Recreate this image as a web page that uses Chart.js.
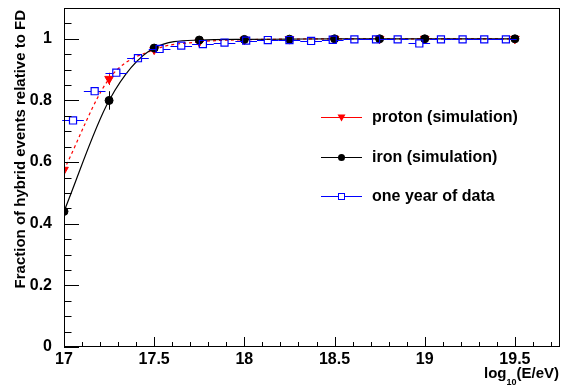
<!DOCTYPE html>
<html>
<head>
<script src="https://cdn.jsdelivr.net/npm/chart.js"></script>
<style>
    html, body { margin: 0; padding: 0; background: #fff; }
</style>
</head>
<body>
<canvas id="fracChart" width="561" height="387"></canvas>
<script>
// simulation points (fit evaluated at quarter decades)
var simEnergy  = [17, 17.25, 17.5, 17.75, 18, 18.25, 18.5, 18.75, 19, 19.5];
var protonFrac = [0.575, 0.87, 0.965, 0.99, 0.997, 0.999, 1.0, 1.0, 1.0, 1.0];
var protonErr  = [0.03, 0.02, 0.01, 0.005, 0.004, 0.003, 0.003, 0.003, 0.003, 0.003];
var ironFrac   = [0.44, 0.80, 0.97, 0.996, 0.998, 0.999, 1.0, 1.0, 1.0, 1.0];
var ironErr    = [0.045, 0.03, 0.01, 0.005, 0.004, 0.003, 0.003, 0.003, 0.003, 0.003];

// one year of data, 0.12 wide bins
var dataEnergy = [17.05, 17.17, 17.29, 17.41, 17.53, 17.65, 17.77, 17.89, 18.01, 18.13, 18.25,
                  18.37, 18.49, 18.61, 18.73, 18.85, 18.97, 19.09, 19.21, 19.33, 19.45];
var dataFrac   = [0.735, 0.83, 0.89, 0.937, 0.967, 0.978, 0.983, 0.988, 0.994, 0.996, 0.996,
                  0.993, 0.997, 0.998, 0.998, 0.998, 0.985, 0.998, 0.998, 0.998, 0.998];
var dataXErr   = [0.06, 0.06, 0.06, 0.06, 0.06, 0.06, 0.06, 0.06, 0.06, 0.06, 0.06,
                  0.06, 0.06, 0.06, 0.06, 0.06, 0.06, 0.06, 0.06, 0.06, 0.06];

var xTicks = ['17', '17.5', '18', '18.5', '19', '19.5'];
var yTicks = ['0', '0.2', '0.4', '0.6', '0.8', '1'];

var FONT = 'Liberation Sans, Arial, sans-serif';
var SQ_HALF = 3.6; // half side of data marker, px

function toXY(xs, ys) {
    return xs.map(function(x, i) { return { x: x, y: ys[i] }; });
}

var rootStyle = {
    id: 'rootStyle',
    beforeDatasetsDraw: function(chart) {
        var ctx = chart.ctx, xs = chart.scales.x, ys = chart.scales.y;
        ctx.save();
        // vertical bars of simulations
        [[protonFrac, protonErr, '#ff0000'], [ironFrac, ironErr, '#000000']].forEach(function(s) {
            ctx.strokeStyle = s[2];
            ctx.lineWidth = 1;
            simEnergy.forEach(function(e, i) {
                var px = Math.round(xs.getPixelForValue(e)) + 0.5;
                ctx.beginPath();
                ctx.moveTo(px, ys.getPixelForValue(s[0][i] - s[1][i]));
                ctx.lineTo(px, ys.getPixelForValue(s[0][i] + s[1][i]));
                ctx.stroke();
            });
        });
        ctx.restore();
    },
    afterDatasetsDraw: function(chart) {
        var ctx = chart.ctx, xs = chart.scales.x, ys = chart.scales.y;
        ctx.save();
        // horizontal bars of the data points, stopping at the marker
        ctx.strokeStyle = '#0000ff';
        ctx.lineWidth = 1.2;
        dataEnergy.forEach(function(e, i) {
            var py = Math.round(ys.getPixelForValue(dataFrac[i])) + 0.5;
            var pc = xs.getPixelForValue(e);
            ctx.beginPath();
            ctx.moveTo(xs.getPixelForValue(e - dataXErr[i]), py);
            ctx.lineTo(pc - SQ_HALF, py);
            ctx.moveTo(pc + SQ_HALF, py);
            ctx.lineTo(xs.getPixelForValue(e + dataXErr[i]), py);
            ctx.stroke();
        });
        ctx.restore();
    },
    afterDraw: function(chart) {
        var ctx = chart.ctx, a = chart.chartArea;
        var xs = chart.scales.x, ys = chart.scales.y;
        ctx.save();
        ctx.strokeStyle = '#000';
        ctx.lineWidth = 1;
        ctx.strokeRect(a.left + 0.5, a.top + 0.5, a.right - a.left - 1, a.bottom - a.top - 1);

        // inward ticks
        ctx.beginPath();
        for (var k = 0; k <= 22; k++) {
            var yv = k * 0.05;
            var py = Math.round(ys.getPixelForValue(yv)) + 0.5;
            var len = (k % 4 === 0) ? 15 : 7.5;
            ctx.moveTo(a.left, py);
            ctx.lineTo(a.left + len, py);
        }
        for (var j = 0; j <= 27; j++) {
            var xv = 17 + j * 0.1;
            var px = Math.round(xs.getPixelForValue(xv)) + 0.5;
            var l2 = (j % 5 === 0) ? 10 : 5;
            ctx.moveTo(px, a.bottom);
            ctx.lineTo(px, a.bottom - l2);
        }
        ctx.stroke();

        // y title
        ctx.fillStyle = '#000';
        ctx.font = 'bold 15px ' + FONT;
        ctx.save();
        ctx.translate(25, 10);
        ctx.rotate(-Math.PI / 2);
        ctx.textAlign = 'right';
        ctx.textBaseline = 'alphabetic';
        ctx.fillText('Fraction of hybrid events relative to FD', 0, 0);
        ctx.restore();

        // x title with subscript
        ctx.textBaseline = 'alphabetic';
        ctx.textAlign = 'left';
        var big = 'bold 15px ' + FONT, small = 'bold 9px ' + FONT;
        ctx.font = big;
        var w1 = ctx.measureText('log').width;
        var w3 = ctx.measureText('(E/eV)').width;
        ctx.font = small;
        var w2 = ctx.measureText('10').width;
        var x0 = 559 - w1 - w2 - w3;
        ctx.font = big;
        ctx.fillText('log', x0, 378);
        ctx.font = small;
        ctx.fillText('10', x0 + w1, 385);
        ctx.font = big;
        ctx.fillText('(E/eV)', x0 + w1 + w2, 378);

        // legend
        var entries = [
            { label: 'proton (simulation)', color: '#ff0000', marker: 'tri', y: 117 },
            { label: 'iron (simulation)', color: '#000000', marker: 'circ', y: 157 },
            { label: 'one year of data', color: '#0000ff', marker: 'sq', y: 196 }
        ];
        entries.forEach(function(en) {
            ctx.strokeStyle = en.color;
            ctx.fillStyle = en.color;
            ctx.lineWidth = 1;
            ctx.beginPath();
            ctx.moveTo(321, en.y + 0.5);
            ctx.lineTo(362, en.y + 0.5);
            ctx.stroke();
            var mx = 341.5, my = en.y + 0.5;
            ctx.beginPath();
            if (en.marker === 'tri') {
                ctx.moveTo(mx - 4, my - 3);
                ctx.lineTo(mx + 4, my - 3);
                ctx.lineTo(mx, my + 4);
                ctx.closePath();
                ctx.fill();
            } else if (en.marker === 'circ') {
                ctx.arc(mx, my, 3.5, 0, Math.PI * 2);
                ctx.fill();
            } else {
                ctx.fillStyle = '#fff';
                ctx.fillRect(mx - 3, my - 3, 6, 6);
                ctx.strokeRect(mx - 3, my - 3, 6, 6);
            }
            ctx.fillStyle = '#000';
            ctx.font = 'bold 16px ' + FONT;
            ctx.textBaseline = 'middle';
            ctx.fillText(en.label, 372, en.y + 1);
        });
        ctx.restore();
    }
};

var ctx = document.getElementById('fracChart').getContext('2d');
var fracChart = new Chart(ctx, {
    type: 'scatter',
    data: {
        datasets: [
            {
                label: 'one year of data',
                data: toXY(dataEnergy, dataFrac),
                showLine: false,
                pointStyle: 'rect',
                pointRadius: 5,
                borderColor: '#0000ff',
                backgroundColor: 'rgba(255,255,255,0)',
                borderWidth: 1.2,
                order: 0
            },
            {
                label: 'proton (simulation)',
                data: toXY(simEnergy, protonFrac),
                showLine: true,
                cubicInterpolationMode: 'monotone',
                borderColor: '#ff0000',
                borderWidth: 1.2,
                borderDash: [3, 3],
                pointStyle: 'triangle',
                rotation: 180,
                pointRadius: 5,
                pointBorderWidth: 1,
                pointBackgroundColor: '#ff0000',
                pointBorderColor: '#ff0000',
                order: 2
            },
            {
                label: 'iron (simulation)',
                data: toXY(simEnergy, ironFrac),
                showLine: true,
                cubicInterpolationMode: 'monotone',
                borderColor: '#000000',
                borderWidth: 1.2,
                pointStyle: 'circle',
                pointRadius: 4,
                pointBorderWidth: 1,
                pointBackgroundColor: '#000000',
                pointBorderColor: '#000000',
                order: 1
            }
        ]
    },
    options: {
        responsive: false,
        animation: false,
        layout: { autoPadding: false, padding: { top: 8, right: 1, left: 0, bottom: 0 } },
        scales: {
            x: {
                type: 'linear',
                min: 17,
                max: 19.75,
                grid: { display: false },
                border: { display: false },
                afterFit: function(s) {
                    s.height = 40;
                    s.paddingLeft = 0;
                    s.paddingRight = 0;
                },
                afterBuildTicks: function(s) {
                    s.ticks = xTicks.map(function(t) { return { value: parseFloat(t), label: t }; });
                },
                ticks: {
                    autoSkip: false,
                    maxRotation: 0,
                    padding: -5,
                    color: '#000',
                    font: { family: FONT, size: 16, weight: 'bold' },
                    callback: function(v, i) { return xTicks[i]; }
                }
            },
            y: {
                min: 0,
                max: 1.1,
                grid: { display: false },
                border: { display: false },
                afterFit: function(s) {
                    s.width = 64;
                    s.paddingTop = 0;
                    s.paddingBottom = 0;
                },
                afterBuildTicks: function(s) {
                    s.ticks = yTicks.map(function(t) { return { value: parseFloat(t), label: t }; });
                },
                ticks: {
                    padding: 4,
                    color: '#000',
                    font: { family: FONT, size: 16, weight: 'bold' },
                    callback: function(v, i) { return yTicks[i]; }
                }
            }
        },
        plugins: {
            legend: { display: false },
            tooltip: { enabled: false }
        }
    },
    plugins: [rootStyle]
});
</script>
</body>
</html>
